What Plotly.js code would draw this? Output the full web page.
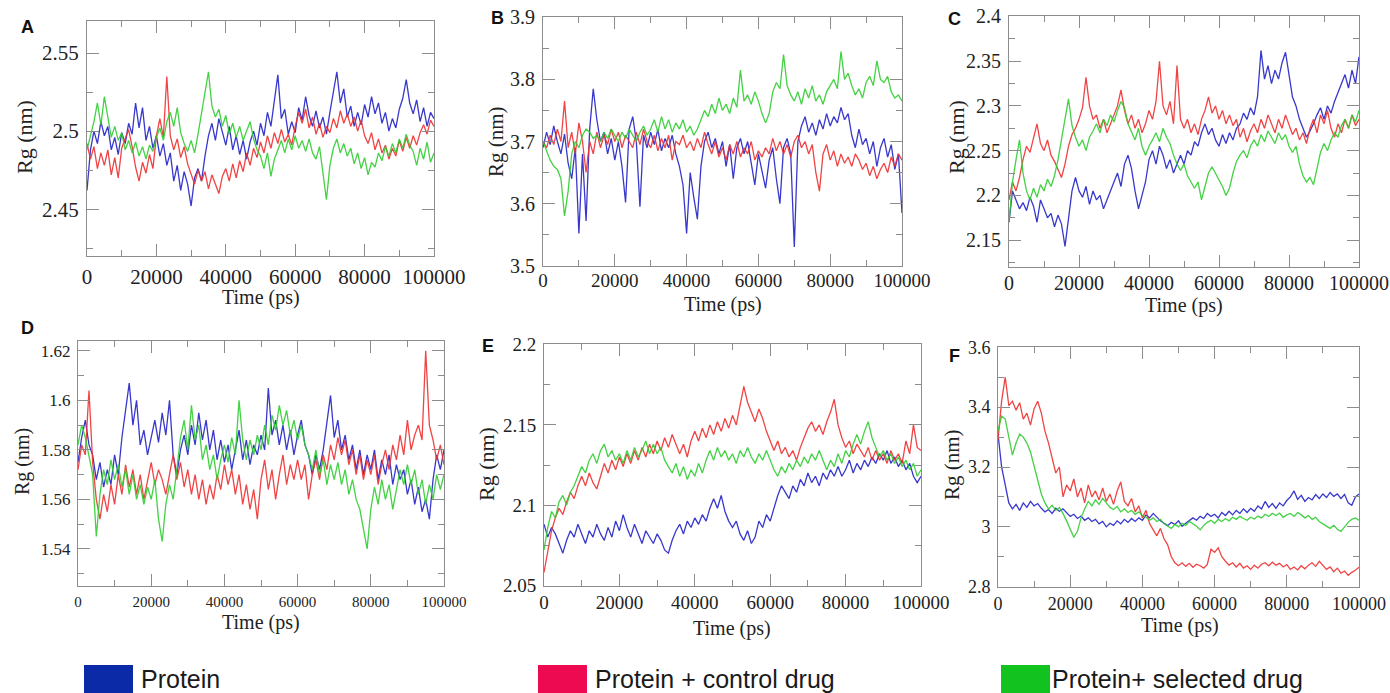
<!DOCTYPE html>
<html>
<head>
<meta charset="utf-8">
<script src="https://cdn.plot.ly/plotly-3.0.1.min.js"></script>
<style>html,body{margin:0;padding:0;background:#fff;}#chart{width:1390px;height:693px;}</style>
</head>
<body>
<div id="chart"></div>
<script>
// Time axis (ps)
const time = [0,1000,2000,3000,4000,5000,6000,7000,8000,9000,10000,11000,12000,13000,14000,15000,16000,17000,18000,19000,20000,21000,22000,23000,24000,25000,26000,27000,28000,29000,30000,31000,32000,33000,34000,35000,36000,37000,38000,39000,40000,41000,42000,43000,44000,45000,46000,47000,48000,49000,50000,51000,52000,53000,54000,55000,56000,57000,58000,59000,60000,61000,62000,63000,64000,65000,66000,67000,68000,69000,70000,71000,72000,73000,74000,75000,76000,77000,78000,79000,80000,81000,82000,83000,84000,85000,86000,87000,88000,89000,90000,91000,92000,93000,94000,95000,96000,97000,98000,99000,100000];

const seriesNames = ["Protein", "Protein + control drug", "Protein+ selected drug"];
const panelLetters = ["A", "B", "C", "D", "E", "F"];

// Panel A
const aProtein = [2.462,2.488,2.500,2.492,2.506,2.497,2.503,2.488,2.496,2.485,2.499,2.492,2.505,2.498,2.518,2.502,2.515,2.494,2.503,2.489,2.497,2.484,2.492,2.478,2.486,2.468,2.478,2.462,2.474,2.466,2.452,2.470,2.476,2.468,2.484,2.497,2.505,2.494,2.508,2.499,2.491,2.503,2.488,2.497,2.485,2.494,2.482,2.493,2.500,2.491,2.505,2.497,2.512,2.503,2.521,2.536,2.508,2.514,2.498,2.506,2.499,2.515,2.507,2.522,2.510,2.503,2.513,2.502,2.509,2.498,2.512,2.526,2.538,2.518,2.527,2.509,2.516,2.503,2.512,2.504,2.517,2.509,2.522,2.511,2.518,2.505,2.512,2.500,2.508,2.502,2.514,2.521,2.533,2.518,2.511,2.520,2.506,2.515,2.503,2.512,2.508];
const aControl = [2.492,2.482,2.490,2.476,2.486,2.478,2.488,2.472,2.483,2.470,2.489,2.495,2.501,2.490,2.477,2.468,2.480,2.473,2.485,2.476,2.497,2.508,2.496,2.535,2.497,2.488,2.495,2.483,2.490,2.479,2.472,2.466,2.475,2.468,2.474,2.463,2.472,2.466,2.460,2.471,2.476,2.468,2.479,2.470,2.481,2.474,2.486,2.478,2.489,2.483,2.493,2.486,2.497,2.489,2.499,2.492,2.501,2.493,2.498,2.491,2.503,2.512,2.505,2.514,2.502,2.509,2.498,2.505,2.496,2.503,2.499,2.508,2.502,2.513,2.505,2.511,2.503,2.509,2.500,2.507,2.497,2.492,2.499,2.488,2.495,2.486,2.491,2.482,2.489,2.484,2.494,2.487,2.496,2.489,2.497,2.491,2.499,2.504,2.498,2.507,2.503];
const aSelected = [2.488,2.497,2.506,2.518,2.504,2.522,2.508,2.496,2.503,2.494,2.499,2.488,2.494,2.486,2.493,2.484,2.490,2.482,2.491,2.487,2.496,2.502,2.494,2.506,2.512,2.503,2.515,2.499,2.492,2.487,2.494,2.486,2.498,2.512,2.524,2.538,2.516,2.509,2.514,2.503,2.510,2.498,2.505,2.496,2.503,2.494,2.500,2.506,2.495,2.488,2.484,2.476,2.486,2.471,2.482,2.488,2.494,2.486,2.495,2.488,2.497,2.489,2.494,2.487,2.495,2.486,2.482,2.490,2.474,2.456,2.478,2.489,2.495,2.486,2.492,2.484,2.489,2.479,2.486,2.476,2.483,2.472,2.480,2.477,2.486,2.481,2.490,2.484,2.492,2.486,2.495,2.489,2.498,2.491,2.487,2.478,2.489,2.482,2.493,2.480,2.486];

// Panel B
const bProtein = [3.690,3.715,3.695,3.725,3.700,3.680,3.712,3.665,3.640,3.690,3.552,3.680,3.572,3.720,3.785,3.735,3.700,3.715,3.680,3.705,3.670,3.700,3.660,3.602,3.720,3.740,3.700,3.595,3.710,3.690,3.715,3.695,3.720,3.685,3.705,3.690,3.710,3.680,3.660,3.630,3.552,3.650,3.610,3.575,3.660,3.700,3.715,3.690,3.705,3.680,3.700,3.660,3.695,3.640,3.690,3.705,3.680,3.700,3.665,3.630,3.680,3.650,3.625,3.670,3.690,3.640,3.600,3.690,3.705,3.680,3.530,3.700,3.725,3.740,3.715,3.730,3.710,3.735,3.720,3.745,3.725,3.740,3.730,3.755,3.735,3.745,3.710,3.690,3.720,3.695,3.705,3.680,3.700,3.660,3.690,3.705,3.675,3.695,3.655,3.680,3.585];
const bControl = [3.700,3.690,3.710,3.695,3.720,3.700,3.765,3.690,3.715,3.680,3.730,3.700,3.650,3.700,3.680,3.715,3.690,3.710,3.695,3.720,3.700,3.715,3.690,3.710,3.700,3.690,3.715,3.695,3.720,3.700,3.690,3.710,3.685,3.705,3.690,3.710,3.670,3.700,3.695,3.710,3.690,3.700,3.685,3.705,3.690,3.715,3.695,3.680,3.700,3.675,3.690,3.670,3.695,3.680,3.700,3.675,3.690,3.680,3.700,3.670,3.685,3.675,3.690,3.680,3.705,3.685,3.700,3.680,3.695,3.675,3.700,3.710,3.690,3.700,3.680,3.695,3.650,3.620,3.680,3.695,3.670,3.685,3.660,3.680,3.665,3.675,3.660,3.680,3.670,3.655,3.665,3.645,3.660,3.640,3.655,3.665,3.650,3.675,3.660,3.680,3.670];
const bSelected = [3.700,3.685,3.670,3.660,3.655,3.640,3.580,3.620,3.680,3.700,3.690,3.710,3.720,3.715,3.705,3.710,3.700,3.715,3.705,3.720,3.710,3.700,3.715,3.705,3.720,3.710,3.700,3.715,3.725,3.710,3.720,3.735,3.715,3.740,3.720,3.735,3.715,3.730,3.720,3.735,3.715,3.725,3.710,3.720,3.735,3.750,3.740,3.760,3.745,3.770,3.750,3.760,3.745,3.770,3.755,3.815,3.765,3.775,3.760,3.780,3.765,3.745,3.730,3.745,3.780,3.795,3.785,3.840,3.790,3.775,3.765,3.780,3.760,3.785,3.770,3.790,3.765,3.775,3.760,3.780,3.790,3.800,3.785,3.845,3.800,3.810,3.790,3.775,3.785,3.770,3.795,3.805,3.790,3.830,3.800,3.795,3.805,3.780,3.770,3.775,3.765];

// Panel C
const cProtein = [2.170,2.205,2.195,2.185,2.192,2.183,2.198,2.188,2.170,2.195,2.185,2.175,2.180,2.165,2.178,2.168,2.143,2.172,2.205,2.220,2.205,2.198,2.210,2.190,2.205,2.195,2.200,2.185,2.195,2.205,2.215,2.225,2.210,2.235,2.245,2.230,2.205,2.185,2.200,2.215,2.240,2.250,2.235,2.255,2.245,2.230,2.240,2.225,2.235,2.245,2.235,2.250,2.245,2.260,2.255,2.270,2.280,2.268,2.275,2.262,2.255,2.268,2.258,2.270,2.262,2.275,2.280,2.292,2.285,2.298,2.290,2.310,2.362,2.330,2.345,2.325,2.340,2.330,2.348,2.360,2.335,2.310,2.300,2.285,2.275,2.265,2.272,2.280,2.290,2.298,2.285,2.300,2.292,2.305,2.315,2.325,2.335,2.320,2.340,2.325,2.355];
const cControl = [2.195,2.215,2.205,2.220,2.240,2.255,2.248,2.265,2.280,2.258,2.250,2.262,2.245,2.238,2.228,2.220,2.235,2.255,2.268,2.275,2.285,2.298,2.332,2.300,2.285,2.290,2.275,2.285,2.270,2.280,2.292,2.300,2.318,2.295,2.280,2.290,2.275,2.285,2.270,2.280,2.295,2.285,2.305,2.350,2.300,2.290,2.305,2.280,2.345,2.285,2.275,2.285,2.270,2.280,2.268,2.285,2.295,2.310,2.292,2.300,2.285,2.295,2.280,2.290,2.278,2.285,2.265,2.275,2.260,2.272,2.280,2.270,2.285,2.275,2.290,2.280,2.270,2.285,2.275,2.290,2.278,2.268,2.275,2.262,2.270,2.258,2.275,2.285,2.270,2.290,2.280,2.295,2.275,2.265,2.280,2.270,2.285,2.275,2.290,2.278,2.285];
const cSelected = [2.170,2.215,2.240,2.262,2.225,2.205,2.195,2.208,2.198,2.212,2.205,2.218,2.210,2.222,2.240,2.262,2.288,2.308,2.278,2.265,2.255,2.262,2.250,2.265,2.272,2.280,2.270,2.285,2.278,2.290,2.282,2.295,2.305,2.298,2.280,2.270,2.262,2.275,2.255,2.245,2.255,2.262,2.270,2.260,2.275,2.265,2.258,2.245,2.235,2.228,2.235,2.222,2.215,2.208,2.215,2.195,2.210,2.225,2.232,2.225,2.218,2.210,2.200,2.208,2.225,2.238,2.245,2.250,2.242,2.255,2.262,2.255,2.268,2.260,2.272,2.265,2.258,2.270,2.262,2.268,2.255,2.248,2.255,2.235,2.222,2.215,2.220,2.212,2.232,2.248,2.258,2.250,2.262,2.270,2.265,2.278,2.285,2.275,2.290,2.282,2.295];

// Panel D
const dProtein = [1.575,1.585,1.592,1.582,1.578,1.568,1.575,1.565,1.572,1.566,1.578,1.570,1.585,1.595,1.607,1.590,1.600,1.582,1.588,1.578,1.585,1.592,1.583,1.595,1.586,1.600,1.578,1.570,1.580,1.586,1.578,1.590,1.582,1.595,1.584,1.592,1.580,1.588,1.576,1.584,1.575,1.582,1.572,1.580,1.588,1.576,1.584,1.574,1.582,1.578,1.586,1.580,1.605,1.586,1.592,1.582,1.590,1.580,1.588,1.578,1.586,1.592,1.582,1.578,1.570,1.578,1.572,1.580,1.590,1.602,1.585,1.592,1.580,1.586,1.576,1.582,1.572,1.580,1.570,1.578,1.572,1.580,1.568,1.576,1.570,1.578,1.566,1.574,1.568,1.572,1.562,1.568,1.558,1.565,1.555,1.560,1.552,1.568,1.578,1.572,1.580];
const dControl = [1.572,1.582,1.578,1.604,1.575,1.560,1.552,1.562,1.555,1.566,1.558,1.570,1.562,1.574,1.565,1.572,1.562,1.570,1.560,1.568,1.575,1.566,1.572,1.568,1.562,1.570,1.578,1.568,1.575,1.565,1.572,1.562,1.570,1.560,1.568,1.558,1.566,1.560,1.570,1.564,1.574,1.566,1.572,1.562,1.570,1.558,1.566,1.556,1.564,1.552,1.568,1.576,1.564,1.572,1.560,1.570,1.578,1.566,1.574,1.568,1.576,1.568,1.574,1.560,1.570,1.576,1.568,1.578,1.572,1.582,1.576,1.585,1.578,1.584,1.574,1.580,1.570,1.578,1.568,1.576,1.570,1.578,1.566,1.574,1.580,1.572,1.582,1.576,1.586,1.578,1.592,1.580,1.586,1.590,1.584,1.620,1.590,1.584,1.576,1.582,1.574];
const dSelected = [1.582,1.590,1.585,1.578,1.570,1.545,1.562,1.572,1.566,1.576,1.568,1.574,1.565,1.572,1.562,1.570,1.560,1.566,1.558,1.565,1.560,1.568,1.552,1.543,1.558,1.566,1.560,1.572,1.585,1.592,1.580,1.598,1.584,1.590,1.576,1.582,1.572,1.578,1.568,1.576,1.582,1.575,1.585,1.578,1.600,1.584,1.576,1.584,1.578,1.586,1.580,1.590,1.582,1.594,1.588,1.598,1.590,1.596,1.586,1.592,1.584,1.590,1.582,1.578,1.572,1.580,1.570,1.576,1.566,1.574,1.568,1.575,1.566,1.572,1.562,1.568,1.560,1.556,1.548,1.540,1.556,1.565,1.558,1.568,1.560,1.566,1.556,1.564,1.572,1.566,1.574,1.566,1.572,1.562,1.568,1.558,1.566,1.560,1.570,1.564,1.570];

// Panel E
const eProtein = [2.088,2.080,2.086,2.082,2.076,2.070,2.078,2.084,2.080,2.088,2.082,2.076,2.084,2.080,2.088,2.082,2.078,2.086,2.080,2.090,2.084,2.094,2.086,2.080,2.088,2.082,2.076,2.084,2.080,2.076,2.082,2.078,2.072,2.070,2.078,2.084,2.088,2.082,2.090,2.086,2.092,2.088,2.094,2.090,2.098,2.104,2.098,2.106,2.096,2.090,2.086,2.090,2.082,2.078,2.084,2.076,2.080,2.090,2.086,2.094,2.090,2.098,2.106,2.112,2.108,2.104,2.112,2.108,2.116,2.112,2.120,2.114,2.118,2.112,2.120,2.116,2.122,2.118,2.124,2.118,2.122,2.128,2.120,2.126,2.122,2.128,2.124,2.130,2.126,2.132,2.128,2.134,2.126,2.130,2.124,2.128,2.122,2.126,2.118,2.114,2.118];
const eControl = [2.058,2.072,2.084,2.092,2.098,2.094,2.102,2.108,2.104,2.112,2.118,2.112,2.120,2.114,2.110,2.118,2.126,2.120,2.128,2.122,2.130,2.124,2.132,2.126,2.134,2.128,2.136,2.130,2.138,2.132,2.140,2.134,2.142,2.136,2.144,2.138,2.132,2.138,2.130,2.140,2.146,2.140,2.148,2.142,2.150,2.144,2.152,2.146,2.154,2.148,2.156,2.150,2.162,2.174,2.164,2.158,2.152,2.160,2.154,2.146,2.140,2.134,2.140,2.132,2.136,2.130,2.134,2.128,2.136,2.142,2.148,2.152,2.146,2.150,2.144,2.152,2.158,2.166,2.150,2.142,2.136,2.140,2.132,2.138,2.134,2.130,2.136,2.128,2.134,2.128,2.132,2.126,2.134,2.128,2.132,2.126,2.140,2.132,2.150,2.136,2.134];
const eSelected = [2.072,2.086,2.096,2.092,2.102,2.106,2.100,2.108,2.112,2.118,2.124,2.120,2.128,2.132,2.126,2.134,2.138,2.130,2.134,2.128,2.132,2.126,2.134,2.128,2.136,2.130,2.134,2.140,2.132,2.138,2.132,2.136,2.128,2.124,2.120,2.126,2.118,2.124,2.116,2.122,2.118,2.126,2.120,2.128,2.134,2.128,2.136,2.130,2.134,2.128,2.132,2.126,2.134,2.130,2.136,2.130,2.126,2.132,2.128,2.134,2.128,2.122,2.118,2.124,2.120,2.126,2.122,2.128,2.124,2.130,2.126,2.132,2.128,2.134,2.128,2.122,2.128,2.124,2.132,2.126,2.134,2.130,2.138,2.144,2.138,2.146,2.152,2.142,2.136,2.130,2.134,2.128,2.132,2.126,2.130,2.124,2.128,2.122,2.126,2.118,2.122];

// Panel F
const fProtein = [3.310,3.200,3.140,3.080,3.060,3.075,3.055,3.080,3.065,3.085,3.070,3.078,3.062,3.050,3.058,3.045,3.062,3.052,3.060,3.048,3.035,3.042,3.028,3.036,3.022,3.030,3.018,3.025,3.010,3.018,3.000,3.012,3.005,3.020,3.010,3.025,3.015,3.028,3.018,3.030,3.022,3.040,3.030,3.045,3.032,3.020,3.012,3.004,3.015,3.008,3.020,3.002,3.012,3.020,3.030,3.022,3.035,3.028,3.045,3.035,3.042,3.030,3.048,3.038,3.052,3.040,3.055,3.045,3.060,3.048,3.062,3.052,3.070,3.060,3.085,3.065,3.078,3.062,3.080,3.070,3.088,3.100,3.120,3.092,3.105,3.085,3.098,3.090,3.108,3.095,3.110,3.098,3.115,3.102,3.110,3.095,3.108,3.080,3.072,3.100,3.110];
const fControl = [3.290,3.420,3.500,3.405,3.420,3.390,3.415,3.360,3.380,3.340,3.395,3.420,3.380,3.320,3.280,3.230,3.180,3.200,3.100,3.140,3.120,3.160,3.100,3.130,3.080,3.140,3.100,3.120,3.090,3.130,3.085,3.110,3.075,3.120,3.150,3.085,3.070,3.095,3.050,3.070,3.030,3.055,3.010,2.990,2.970,2.995,2.960,2.940,2.900,2.880,2.870,2.880,2.868,2.878,2.865,2.875,2.870,2.862,2.875,2.925,2.915,2.930,2.900,2.885,2.872,2.880,2.866,2.878,2.862,2.870,2.858,2.872,2.862,2.875,2.880,2.870,2.882,2.872,2.878,2.866,2.874,2.858,2.866,2.856,2.870,2.860,2.872,2.880,2.868,2.885,2.870,2.858,2.866,2.850,2.862,2.845,2.852,2.838,2.848,2.855,2.865];
const fSelected = [3.320,3.370,3.360,3.300,3.240,3.280,3.310,3.300,3.280,3.250,3.200,3.150,3.110,3.080,3.060,3.072,3.055,3.065,3.045,3.020,2.990,2.965,2.985,3.030,3.060,3.085,3.070,3.090,3.075,3.095,3.080,3.065,3.058,3.068,3.050,3.060,3.048,3.055,3.042,3.050,3.038,3.032,3.022,3.030,3.018,3.025,3.010,3.002,2.995,3.008,3.000,3.012,3.005,3.018,3.010,3.002,2.990,3.005,3.015,3.022,3.012,3.025,3.018,3.028,3.020,3.032,3.025,3.035,3.028,3.022,3.032,3.026,3.036,3.030,3.042,3.035,3.045,3.038,3.046,3.032,3.040,3.045,3.035,3.048,3.040,3.030,3.038,3.025,3.032,3.018,3.010,3.002,2.995,3.005,2.992,2.985,3.000,3.015,3.025,3.030,3.022];

const panelData = [
  [aProtein, aControl, aSelected],
  [bProtein, bControl, bSelected],
  [cProtein, cControl, cSelected],
  [dProtein, dControl, dSelected],
  [eProtein, eControl, eSelected],
  [fProtein, fControl, fSelected]
];

const lineColors = ["#2222c8", "#ee3030", "#30cc30"];
const legendColors = ["#0b2aa8", "#ee0a50", "#12c21e"];

const W = 1390, H = 693;
const SERIF = "'Liberation Serif', 'Times New Roman', Times, serif";
const SANS = "'Liberation Sans', Arial, sans-serif";

// layout geometry (pixels)
const panels = [
  {l:87,  r:434,  t:21,  b:256, yr:[2.42,2.5705], ydt:0.05, ymin:0.025, xfs:21, yfs:21, xso:2,  letter:[28,27],  ttl:[261,298], rg:[24,137],  rgfs:22},
  {l:543, r:902,  t:17,  b:266, yr:[3.4995,3.9005], ydt:0.1, ymin:0.05, xfs:19, yfs:20, xso:-3, letter:[497,18], ttl:[723,304], rg:[496,142], rgfs:21},
  {l:1009,r:1359, t:16,  b:267, yr:[2.12,2.4005], ydt:0.05, ymin:0.025, xfs:20, yfs:20, xso:-2, letter:[955,19], ttl:[1184,305], rg:[956,137], rgfs:22},
  {l:78,  r:444,  t:341, b:586, yr:[1.525,1.624], ydt:0.02, ymin:0.01, xfs:15, yfs:17, xso:2,  letter:[28,328], ttl:[261,622], rg:[22,462],  rgfs:20},
  {l:544, r:921,  t:344, b:586, yr:[2.0495,2.2005], ydt:0.05, ymin:0.025, xfs:19, yfs:19, xso:-1, letter:[488,346], ttl:[732,628], rg:[486,464], rgfs:22},
  {l:998, r:1359, t:347, b:587, yr:[2.799,3.601], ydt:0.2, ymin:0.1, xfs:18, yfs:18, xso:0,  letter:[954,356], ttl:[1180,625], rg:[952,465], rgfs:21}
];

const traces = [];
const layout = {
  width: W, height: H,
  margin: {l:0, r:0, t:0, b:0},
  font: {family: SERIF, color: "#222"},
  paper_bgcolor: "#ffffff",
  plot_bgcolor: "#ffffff",
  showlegend: false,
  annotations: [],
  shapes: []
};

const axisColor = "#8c8c8c";

panels.forEach((p, i) => {
  const n = i === 0 ? "" : String(i + 1);
  const xa = "xaxis" + n, ya = "yaxis" + n;
  layout[xa] = {
    domain: [p.l / W, p.r / W],
    anchor: "y" + n,
    range: [0, 100000],
    tick0: 0, dtick: 20000,
    tickformat: "d",
    ticks: "inside", ticklen: 12, tickwidth: 1, tickcolor: axisColor,
    minor: {dtick: 10000, ticks: "inside", ticklen: 6, tickcolor: axisColor, showgrid: false},
    showline: true, linecolor: axisColor, linewidth: 1, mirror: "allticks",
    showgrid: false, zeroline: false,
    ticklabelstandoff: p.xso,
    tickfont: {family: SERIF, size: p.xfs, color: "#222"},
    fixedrange: true
  };
  layout[ya] = {
    domain: [(H - p.b) / H, (H - p.t) / H],
    anchor: "x" + n,
    range: p.yr,
    tick0: 0, dtick: p.ydt,
    ticks: "inside", ticklen: 12, tickwidth: 1, tickcolor: axisColor,
    minor: {dtick: p.ymin, ticks: "inside", ticklen: 6, tickcolor: axisColor, showgrid: false},
    showline: true, linecolor: axisColor, linewidth: 1, mirror: "allticks",
    showgrid: false, zeroline: false,
    ticklabelstandoff: 3,
    tickfont: {family: SERIF, size: p.yfs, color: "#222"},
    fixedrange: true
  };
  panelData[i].forEach((ys, k) => {
    traces.push({
      type: "scatter", mode: "lines",
      x: time, y: ys,
      name: seriesNames[k],
      xaxis: "x" + n, yaxis: "y" + n,
      line: {color: lineColors[k], width: 1.3},
      opacity: 0.9,
      hoverinfo: "skip"
    });
  });
  layout.annotations.push({
    xref: "paper", yref: "paper",
    x: p.letter[0] / W, y: 1 - p.letter[1] / H,
    xanchor: "center", yanchor: "middle",
    text: "<b>" + panelLetters[i] + "</b>", showarrow: false,
    font: {family: SANS, size: 18, color: "#111"}
  });
  layout.annotations.push({
    xref: "paper", yref: "paper",
    x: p.ttl[0] / W, y: 1 - p.ttl[1] / H,
    xanchor: "center", yanchor: "middle",
    text: "Time (ps)", showarrow: false,
    font: {family: SERIF, size: 20, color: "#222"}
  });
  layout.annotations.push({
    xref: "paper", yref: "paper",
    x: p.rg[0] / W, y: 1 - p.rg[1] / H,
    xanchor: "center", yanchor: "middle",
    textangle: -90,
    text: "Rg (nm)", showarrow: false,
    font: {family: SERIF, size: p.rgfs, color: "#222"}
  });
});

// bottom legend: coloured squares + labels
const legendItems = [
  {x0: 84, x1: 133, tx: 139},
  {x0: 538, x1: 587, tx: 593},
  {x0: 1001, x1: 1050, tx: 1050}
];
legendItems.forEach((it, k) => {
  layout.shapes.push({
    type: "rect", xref: "paper", yref: "paper",
    x0: it.x0 / W, x1: it.x1 / W,
    y0: 0, y1: 1 - 665 / H,
    fillcolor: legendColors[k], line: {width: 0}
  });
  layout.annotations.push({
    xref: "paper", yref: "paper",
    x: it.tx / W, y: 1 - 679 / H,
    xanchor: "left", yanchor: "middle",
    text: seriesNames[k], showarrow: false,
    font: {family: SANS, size: 25, color: "#1a1a1a"}
  });
});

Plotly.newPlot("chart", traces, layout, {staticPlot: true, displayModeBar: false});
</script>
</body>
</html>
